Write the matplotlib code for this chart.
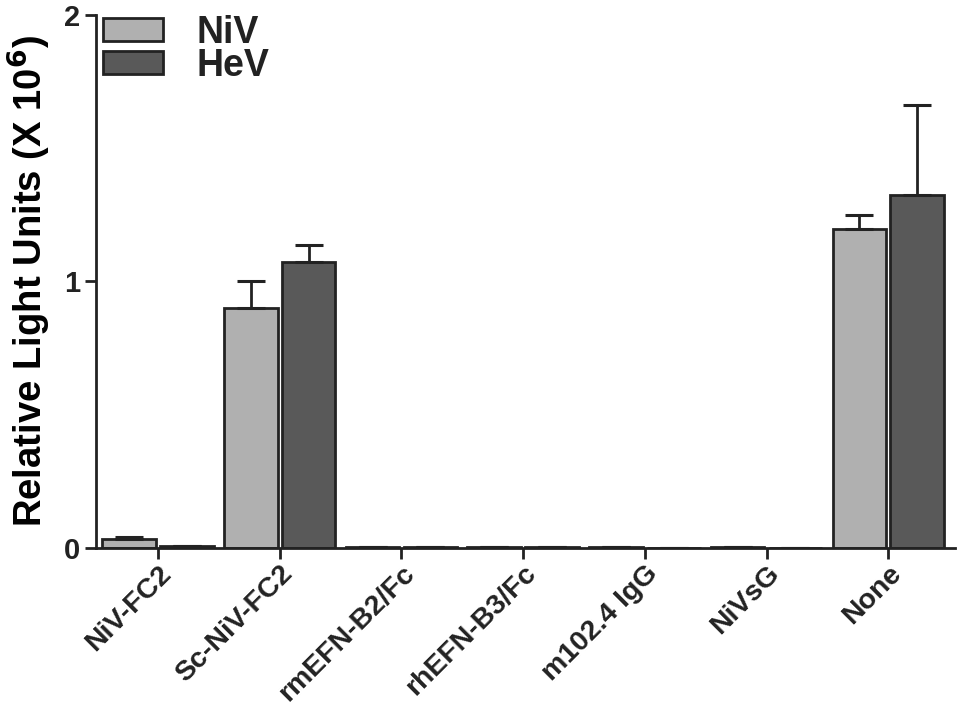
import matplotlib.pyplot as plt
import numpy as np

plt.rcParams["font.family"] = ["Liberation Sans", "DejaVu Sans"]
plt.rcParams["font.weight"] = "bold"

categories = ["NiV-FC2", "Sc-NiV-FC2", "rmEFN-B2/Fc", "rhEFN-B3/Fc",
              "m102.4 IgG", "NiVsG", "None"]
niv_mean = [0.034, 0.90, 0.003, 0.004, 0.003, 0.004, 1.197]
niv_err = [0.006, 0.10, 0.001, 0.001, 0.001, 0.001, 0.053]
hev_mean = [0.006, 1.073, 0.003, 0.003, 0.001, 0.001, 1.325]
hev_err = [0.001, 0.064, 0.001, 0.001, 0.0, 0.0, 0.335]

x = np.arange(len(categories))
width = 0.44
gap = 0.035

fig = plt.figure(figsize=(9.6, 7.08), dpi=100)
ax = fig.add_axes([0.1, 0.226, 0.895, 0.753])

err_kw = dict(ecolor="#222222", elinewidth=2, capthick=2.2, capsize=10)
ax.bar(x - width / 2 - gap / 2, niv_mean, width, yerr=[np.zeros(len(x)), niv_err],
       color="#b0b0b0", edgecolor="#222222", linewidth=2, error_kw=err_kw, label="NiV")
ax.bar(x + width / 2 + gap / 2, hev_mean, width, yerr=[np.zeros(len(x)), hev_err],
       color="#595959", edgecolor="#222222", linewidth=2, error_kw=err_kw, label="HeV")

ax.set_xlim(-0.51, 6.55)
ax.set_ylim(0, 2)
ax.set_yticks([0, 1, 2])
ax.set_yticklabels(["0", "1", "2"], fontsize=21, fontweight="bold")
ax.set_xticks(x)
ax.set_xticklabels(categories, rotation=45, ha="right", rotation_mode="anchor",
                   fontsize=20.5, fontweight="bold")
ax.set_ylabel("Relative Light Units (X 10$^{\\mathbf{6}}$)", fontsize=27.5,
              fontweight="bold", labelpad=8)

for side in ["top", "right"]:
    ax.spines[side].set_visible(False)
for side in ["left", "bottom"]:
    ax.spines[side].set_linewidth(2)
    ax.spines[side].set_color("#222222")
ax.tick_params(axis="both", direction="out", length=8, width=2, color="#222222",
               labelcolor="#222222")
ax.tick_params(axis="x", pad=1)

leg = ax.legend(loc="upper left", bbox_to_anchor=(0.008, 1.0), frameon=False,
                fontsize=27, handlelength=1.6, handleheight=0.55,
                handletextpad=0.9, labelspacing=-0.08, borderpad=0,
                borderaxespad=0)
for t in leg.get_texts():
    t.set_fontweight("bold")
    t.set_color("#222222")

fig.savefig("out.png", dpi=100)
